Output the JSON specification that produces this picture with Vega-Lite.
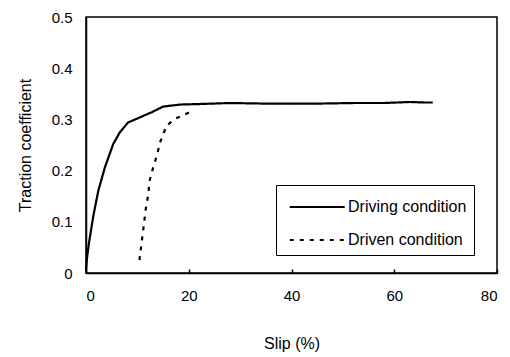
{
  "$schema": "https://vega.github.io/schema/vega-lite/v6.json",
  "width": 411,
  "height": 256,
  "autosize": "none",
  "padding": {"left": 86, "top": 17, "right": 13, "bottom": 84},
  "background": "white",
  "config": {
    "font": "Liberation Sans",
    "view": {"stroke": "black", "strokeWidth": 1.5},
    "legend": {
      "title": null,
      "orient": "none",
      "legendX": 190,
      "legendY": 168,
      "strokeColor": "black",
      "fillColor": "white",
      "padding": 7,
      "symbolType": "M-0.6,0H3.4",
      "symbolSize": 756,
      "symbolStrokeWidth": 2.2,
      "symbolStrokeColor": "black",
      "symbolFillColor": "transparent",
      "labelFontSize": 16,
      "labelColor": "black",
      "labelOffset": 35,
      "rowPadding": 10
    }
  },
  "data": {
    "values": [
      {"cond": "Driving condition", "slip": 0.0, "tc": 0.005},
      {"cond": "Driving condition", "slip": 0.2, "tc": 0.03},
      {"cond": "Driving condition", "slip": 0.6, "tc": 0.06},
      {"cond": "Driving condition", "slip": 1.4, "tc": 0.11},
      {"cond": "Driving condition", "slip": 2.4, "tc": 0.161},
      {"cond": "Driving condition", "slip": 3.7, "tc": 0.207},
      {"cond": "Driving condition", "slip": 5.3, "tc": 0.252},
      {"cond": "Driving condition", "slip": 6.6, "tc": 0.275},
      {"cond": "Driving condition", "slip": 8.2, "tc": 0.294},
      {"cond": "Driving condition", "slip": 10.5, "tc": 0.304},
      {"cond": "Driving condition", "slip": 12.8, "tc": 0.314},
      {"cond": "Driving condition", "slip": 15.0, "tc": 0.325},
      {"cond": "Driving condition", "slip": 18.3, "tc": 0.329},
      {"cond": "Driving condition", "slip": 22.0, "tc": 0.330},
      {"cond": "Driving condition", "slip": 28.0, "tc": 0.332},
      {"cond": "Driving condition", "slip": 34.0, "tc": 0.331},
      {"cond": "Driving condition", "slip": 40.0, "tc": 0.331},
      {"cond": "Driving condition", "slip": 46.0, "tc": 0.331},
      {"cond": "Driving condition", "slip": 52.0, "tc": 0.332},
      {"cond": "Driving condition", "slip": 58.0, "tc": 0.332},
      {"cond": "Driving condition", "slip": 63.0, "tc": 0.334},
      {"cond": "Driving condition", "slip": 66.0, "tc": 0.333},
      {"cond": "Driving condition", "slip": 67.5, "tc": 0.333},
      {"cond": "Driven condition", "slip": 10.4, "tc": 0.025},
      {"cond": "Driven condition", "slip": 10.8, "tc": 0.058},
      {"cond": "Driven condition", "slip": 11.3, "tc": 0.097},
      {"cond": "Driven condition", "slip": 11.6, "tc": 0.123},
      {"cond": "Driven condition", "slip": 12.1, "tc": 0.152},
      {"cond": "Driven condition", "slip": 12.4, "tc": 0.181},
      {"cond": "Driven condition", "slip": 13.1, "tc": 0.207},
      {"cond": "Driven condition", "slip": 13.9, "tc": 0.233},
      {"cond": "Driven condition", "slip": 14.4, "tc": 0.255},
      {"cond": "Driven condition", "slip": 15.7, "tc": 0.288},
      {"cond": "Driven condition", "slip": 17.3, "tc": 0.301},
      {"cond": "Driven condition", "slip": 20.2, "tc": 0.314}
    ]
  },
  "mark": {"type": "line", "strokeWidth": 2.2},
  "encoding": {
    "x": {
      "field": "slip", "type": "quantitative",
      "scale": {"domain": [0, 80], "nice": false, "zero": false},
      "axis": {
        "values": [0, 20, 40, 60, 80],
        "title": "Slip (%)",
        "titleFontSize": 16, "titleFontWeight": "normal", "titleColor": "black", "titlePadding": 32,
        "labelFontSize": 15, "labelColor": "black", "labelPadding": 19,
        "domainColor": "black", "domainWidth": 1.5,
        "tickColor": "black", "tickSize": -4, "tickWidth": 1.5,
        "grid": false
      }
    },
    "y": {
      "field": "tc", "type": "quantitative",
      "scale": {"domain": [0, 0.5], "nice": false},
      "axis": {
        "values": [0, 0.1, 0.2, 0.3, 0.4, 0.5],
        "labelExpr": "datum.value == 0 ? '0' : format(datum.value, '.1f')",
        "title": "Traction coefficient",
        "titleFontSize": 16, "titleFontWeight": "normal", "titleColor": "black", "titlePadding": 18,
        "labelFontSize": 15, "labelColor": "black", "labelPadding": 14,
        "domainColor": "black", "domainWidth": 1.5,
        "ticks": false,
        "grid": false
      }
    },
    "color": {
      "field": "cond", "type": "nominal",
      "scale": {"domain": ["Driving condition", "Driven condition"], "range": ["black", "black"]}
    },
    "strokeDash": {
      "field": "cond", "type": "nominal",
      "scale": {"domain": ["Driving condition", "Driven condition"], "range": [[1, 0], [4, 6]]}
    }
  }
}
